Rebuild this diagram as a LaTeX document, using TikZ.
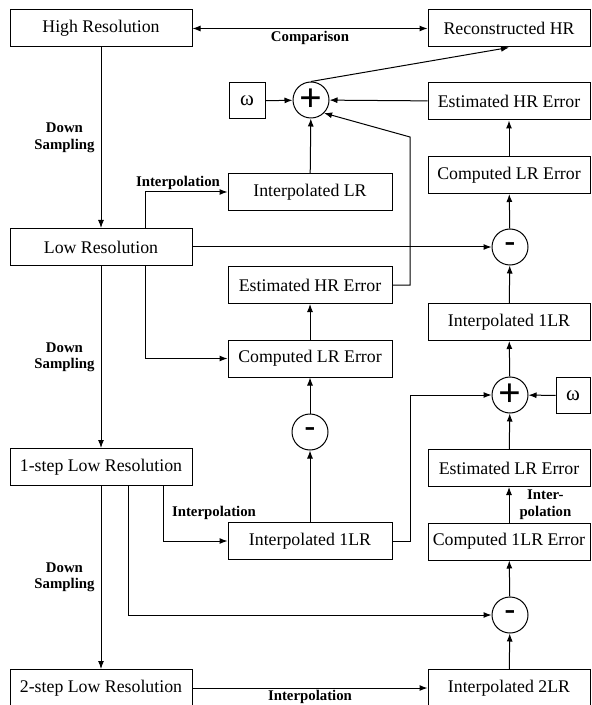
\documentclass[tikz,border=0pt]{standalone}
\usepackage{fontspec}
\setmainfont{Liberation Serif}
\usetikzlibrary{arrows.meta}

\begin{document}
\begin{tikzpicture}[x=0.5pt, y=-0.5pt, line width=0.5pt,
    >={Latex[length=4pt,width=3pt]},
    box/.style={draw, inner sep=0pt, font=\fontsize{8.9}{10}\selectfont},
    lbox/.style={box, minimum width=91pt, minimum height=18.5pt},
    mbox/.style={box, minimum width=82pt, minimum height=18.5pt},
    rbox/.style={box, minimum width=81pt, minimum height=18.5pt},
    wbox/.style={box, minimum width=18pt, minimum height=18pt, font=\fontsize{10.5}{12}\selectfont},
    op/.style={draw, circle, minimum size=18pt, inner sep=0pt},
    lbl/.style={font=\fontsize{7.4}{8.2}\selectfont\bfseries, align=center, inner sep=1pt}]

\useasboundingbox (0,0) rectangle (591,705);

% Nodes: left column
\node[lbox] (hr)  at (101,28.5) {High Resolution};
\node[lbox] (lr)  at (101,247)  {Low Resolution};
\node[lbox] (lr1) at (101,467)  {1-step Low Resolution};
\node[lbox] (lr2) at (101,688)  {2-step Low Resolution};

% Nodes: middle column
\node[wbox] (wA)    at (247,101) {ω};
\node[op]   (plusA) at (311,100) {\fontsize{20}{20}\selectfont\bfseries +};
\node[mbox] (ilr)   at (310,192) {Interpolated LR};
\node[mbox] (ehrM)  at (310,285) {Estimated HR Error};
\node[mbox] (clrM)  at (310,358.5) {Computed LR Error};
\node[op]   (subB)  at (310,432) {\fontsize{16}{16}\selectfont\bfseries -};
\node[mbox] (i1lrM) at (310,541) {Interpolated 1LR};

% Nodes: right column
\node[rbox] (recon) at (509,28.5) {Reconstructed HR};
\node[rbox] (ehrR)  at (509,101.5) {Estimated HR Error};
\node[rbox] (clrR)  at (509,175) {Computed LR Error};
\node[op]   (subA)  at (510,247) {\fontsize{16}{16}\selectfont\bfseries -};
\node[rbox] (i1lrR) at (509,322) {Interpolated 1LR};
\node[op]   (plusB) at (510,395) {\fontsize{20}{20}\selectfont\bfseries +};
\node[wbox, minimum width=17pt] (wB) at (573,395.5) {ω};
\node[rbox] (elr)   at (509,468) {Estimated LR Error};
\node[rbox] (c1lr)  at (509,541.5) {Computed 1LR Error};
\node[op]   (subC)  at (510,615) {\fontsize{16}{16}\selectfont\bfseries -};
\node[rbox] (i2lr)  at (509,688) {Interpolated 2LR};

\coordinate (kA) at (410,137);

% Edges: down sampling chain
\draw[<->] (hr) -- node[lbl, below] {Comparison} (recon);
\draw[->] (hr) -- node[lbl, left, xshift=-2pt] {Down\\Sampling} (lr);
\draw[->] (lr) -- node[lbl, left, xshift=-2pt] {Down\\Sampling} (lr1);
\draw[->] (lr1) -- node[lbl, left, xshift=-2pt] {Down\\Sampling} (lr2);

% Edges: first level
\draw[->] ([xshift=22pt]lr.north) |- node[lbl, above, pos=0.7] {Interpolation} (ilr);
\draw[->] ([xshift=22pt]lr.south) |- (clrM);
\draw[->] (ilr) -- (plusA);
\draw[->] (wA) -- (plusA);
\draw[->] (ehrR) -- (plusA);
\draw[->] (ehrM.east) -| (kA) -- (plusA.south east);
\draw[->] (plusA.north) -- (recon.south);
\draw[->] (clrR) -- (ehrR);
\draw[->] (subA) -- (clrR);
\draw[->] (lr) -- (subA);
\draw[->] (i1lrR) -- (subA);

% Edges: second level
\draw[->] (plusB) -- (i1lrR);
\draw[->] (wB) -- (plusB);
\draw[->] (elr) -- (plusB);
\draw[->] (i1lrM.east) -- ++(9pt,0) |- (plusB);
\draw[->] (i1lrM) -- (subB);
\draw[->] (subB) -- (clrM);
\draw[->] (clrM) -- (ehrM);
\draw[->] ([xshift=31pt]lr1.south) |- (i1lrM);
\node[lbl] (lblB) at (214,513) {Interpolation};
\draw[->] ([xshift=13.5pt]lr1.south) |- (subC);

% Edges: third level
\draw[->] (lr2) -- node[lbl, below] {Interpolation} (i2lr);
\draw[->] (i2lr) -- (subC);
\draw[->] (subC) -- (c1lr);
\draw[->] (c1lr) -- node[lbl, right, xshift=4pt] {Inter-\\polation} (elr);
\end{tikzpicture}
\end{document}
